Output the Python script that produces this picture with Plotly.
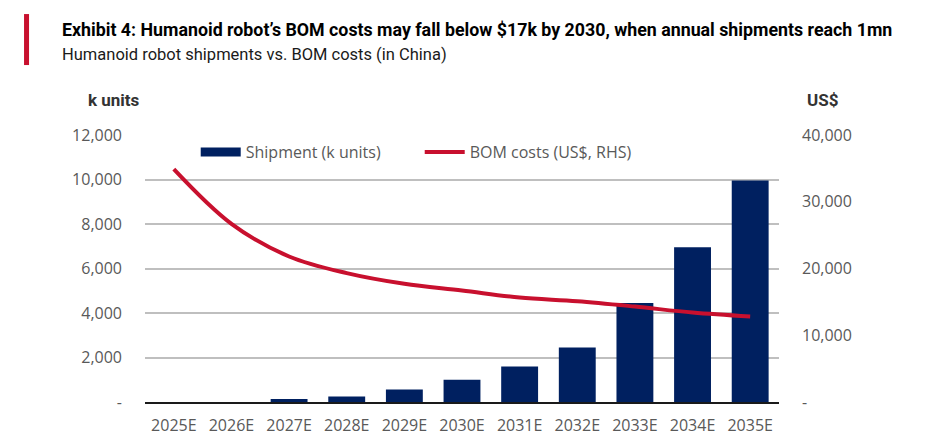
import plotly.graph_objects as go

years = ["2025E", "2026E", "2027E", "2028E", "2029E", "2030E",
         "2031E", "2032E", "2033E", "2034E", "2035E"]
shipments_k = [0, 0, 130, 250, 560, 1000, 1600, 2450, 4450, 6950, 9950]
bom_usd = [34900, 26700, 21800, 19300, 17700, 16700, 15650, 15100, 14300, 13400, 12800]

left_ticks = [0, 2000, 4000, 6000, 8000, 10000, 12000]
left_text = ["-", "2,000", "4,000", "6,000", "8,000", "10,000", "12,000"]
right_ticks = [0, 10000, 20000, 30000, 40000]
right_text = ["-", "10,000", "20,000", "30,000", "40,000"]

NAVY = "#002060"
RED = "#C8102E"
GREY = "#595959"
TICKFONT = dict(family="Open Sans, Noto Sans, sans-serif", size=16, color=GREY)
COND = "Roboto, Liberation Sans, sans-serif"

fig = go.Figure()
fig.add_trace(go.Bar(x=years, y=shipments_k, name="Shipment (k units)",
                     marker=dict(color=NAVY, line=dict(width=0)), yaxis="y",
                     showlegend=False))
# legend-only entry drawn as a wide navy swatch
fig.add_trace(go.Scatter(x=[None], y=[None], name="Shipment (k units)", mode="lines",
                         line=dict(color=NAVY, width=9), yaxis="y"))
fig.add_trace(go.Scatter(x=years, y=bom_usd, name="BOM costs (US$, RHS)", mode="lines",
                         line=dict(color=RED, width=4, shape="spline", smoothing=1.0),
                         yaxis="y2"))

fig.update_layout(
    width=941, height=440,
    margin=dict(l=137, r=170, t=127, b=46),
    paper_bgcolor="white", plot_bgcolor="white",
    bargap=0.36,
    showlegend=True,
    legend=dict(orientation="h", x=0.080, y=1.0, xanchor="left", yanchor="top",
                font=dict(family="Open Sans, sans-serif", size=16, color=GREY),
                bgcolor="rgba(0,0,0,0)", tracegroupgap=0, itemwidth=40,
                entrywidth=169),
    xaxis=dict(showgrid=False, showline=True, linecolor="#1a1a1a", linewidth=2,
               ticks="", tickfont=TICKFONT, ticklabelstandoff=8, fixedrange=True),
    yaxis=dict(range=[0, 12000], tickvals=left_ticks, ticktext=left_text,
               showgrid=True, gridcolor="#BFBFBF", gridwidth=1.5, zeroline=False,
               showline=False, ticks="", tickfont=TICKFONT, ticklabelstandoff=22),
    yaxis2=dict(range=[0, 40000], tickvals=right_ticks, ticktext=right_text,
                overlaying="y", side="right", showgrid=False, zeroline=False,
                showline=False, ticks="", tickfont=TICKFONT, ticklabelstandoff=22),
    font=dict(family="Open Sans, sans-serif", color=GREY),
)

fig.add_shape(type="rect", xref="paper", yref="paper",
              x0=-0.1908, x1=-0.1829, y0=1.262, y1=1.453,
              fillcolor=RED, line=dict(width=0), layer="above")

fig.add_annotation(xref="paper", yref="paper", x=-0.134, y=1.397, xanchor="left", yanchor="middle",
                   text="<b>Exhibit 4: Humanoid robot’s BOM costs may fall below $17k by 2030, when annual shipments reach 1mn</b>",
                   showarrow=False, font=dict(family=COND, size=17.8, color="#000000"))
fig.add_annotation(xref="paper", yref="paper", x=-0.134, y=1.302, xanchor="left", yanchor="middle",
                   text="Humanoid robot shipments vs. BOM costs (in China)",
                   showarrow=False, font=dict(family=COND, size=16.5, color="#1a1a1a"))
fig.add_annotation(xref="paper", yref="paper", x=-0.049, y=1.131, xanchor="center", yanchor="middle",
                   text="<b>k units</b>", showarrow=False,
                   font=dict(family=COND, size=17, color="#333333"))
fig.add_annotation(xref="paper", yref="paper", x=1.069, y=1.131, xanchor="center", yanchor="middle",
                   text="<b>US$</b>", showarrow=False,
                   font=dict(family=COND, size=17, color="#333333"))

fig.write_html("out.html")
